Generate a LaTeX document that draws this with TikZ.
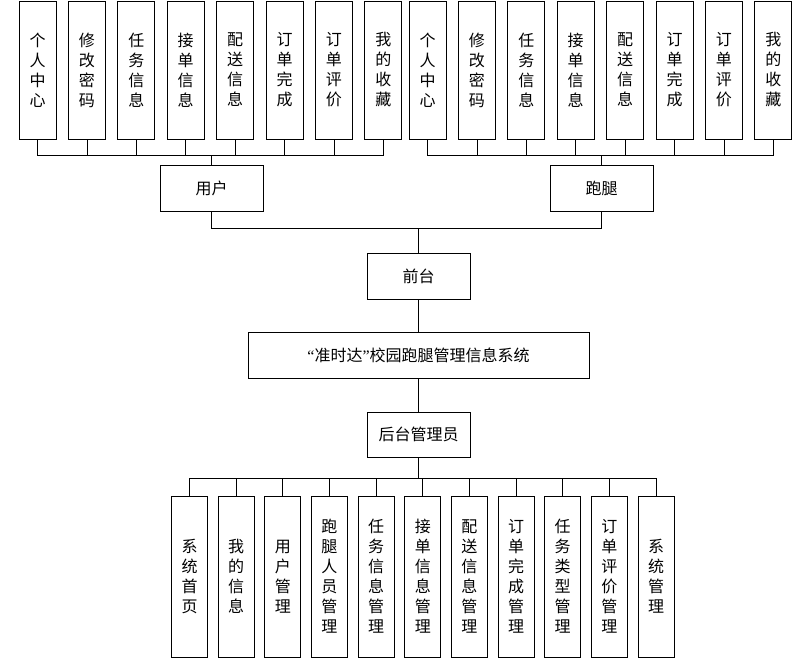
\documentclass[tikz,border=0pt]{standalone}
\usepackage{fontspec}
\setmainfont{Noto Sans CJK SC}
\newfontfamily\quotefont{Liberation Serif}
\usetikzlibrary{positioning}

\begin{document}
\begin{tikzpicture}[x=1pt,y=-1pt,
    box/.style={draw, line width=0.8pt, inner sep=0pt, font=\fontsize{16}{20}\selectfont},
    vbox/.style={box, minimum width=37pt, minimum height=138pt, align=center},
    lowbox/.style={box, minimum width=36pt, minimum height=161pt, align=center},
    hbox/.style={box, minimum width=103pt, minimum height=46pt},
    link/.style={line width=0.8pt},
    trunk/.style={line width=1.8pt}]

  \useasboundingbox (0,0) rectangle (793,660);

  % Main chain
  \node[hbox] (user) at (211.5,188) {用户};
  \node[hbox] (runner) at (601.5,188) {跑腿};
  \node[hbox] (front) at (418.5,276) {前台};
  \node[hbox, minimum width=341pt] (sys) at (418.5,355)
    {{\quotefont “}准时达{\quotefont ”}校园跑腿管理信息系统};
  \node[hbox, minimum height=45pt] (admin) at (418.5,434.5) {后台管理员};

  % Functions of user and runner (same list)
  \foreach \t [count=\i] in {{个\\人\\中\\心},{修\\改\\密\\码},{任\\务\\信\\息},{接\\单\\信\\息},
      {配\\送\\信\\息},{订\\单\\完\\成},{订\\单\\评\\价},{我\\的\\收\\藏}} {
    \pgfmathsetmacro{\xu}{37.5+49.4*(\i-1)}
    \node[vbox] (u\i) at (\xu,70) {\t};
    \node[vbox] (r\i) at (\xu+390,70) {\t};
    \draw[link] (user.north) -- ++(0,-9) -| (u\i.south);
    \draw[link] (runner.north) -- ++(0,-9) -| (r\i.south);
  }
  \draw[trunk] (user.north) -- ++(0,-9);
  \draw[trunk] (runner.north) -- ++(0,-9);

  % Front end
  \draw[link] (user.south) -- ++(0,17) -| (front.north);
  \draw[link] (runner.south) -- ++(0,17) -| (front.north);
  \draw[link] (front) -- (sys);
  \draw[link] (sys) -- (admin);

  % Functions of the administrator
  \foreach \t [count=\i] in {{系\\统\\首\\页},{我\\的\\信\\息},{用\\户\\管\\理},{跑\\腿\\人\\员\\管\\理},
      {任\\务\\信\\息\\管\\理},{接\\单\\信\\息\\管\\理},{配\\送\\信\\息\\管\\理},{订\\单\\完\\成\\管\\理},
      {任\\务\\类\\型\\管\\理},{订\\单\\评\\价\\管\\理},{系\\统\\管\\理}} {
    \pgfmathsetmacro{\xa}{189.5+46.65*(\i-1)}
    \node[lowbox] (a\i) at (\xa,576.5) {\t};
    \draw[link] (admin.south) -- ++(0,21) -| (a\i.north);
  }
  \draw[trunk] (admin.south) -- ++(0,21);

\end{tikzpicture}
\end{document}
